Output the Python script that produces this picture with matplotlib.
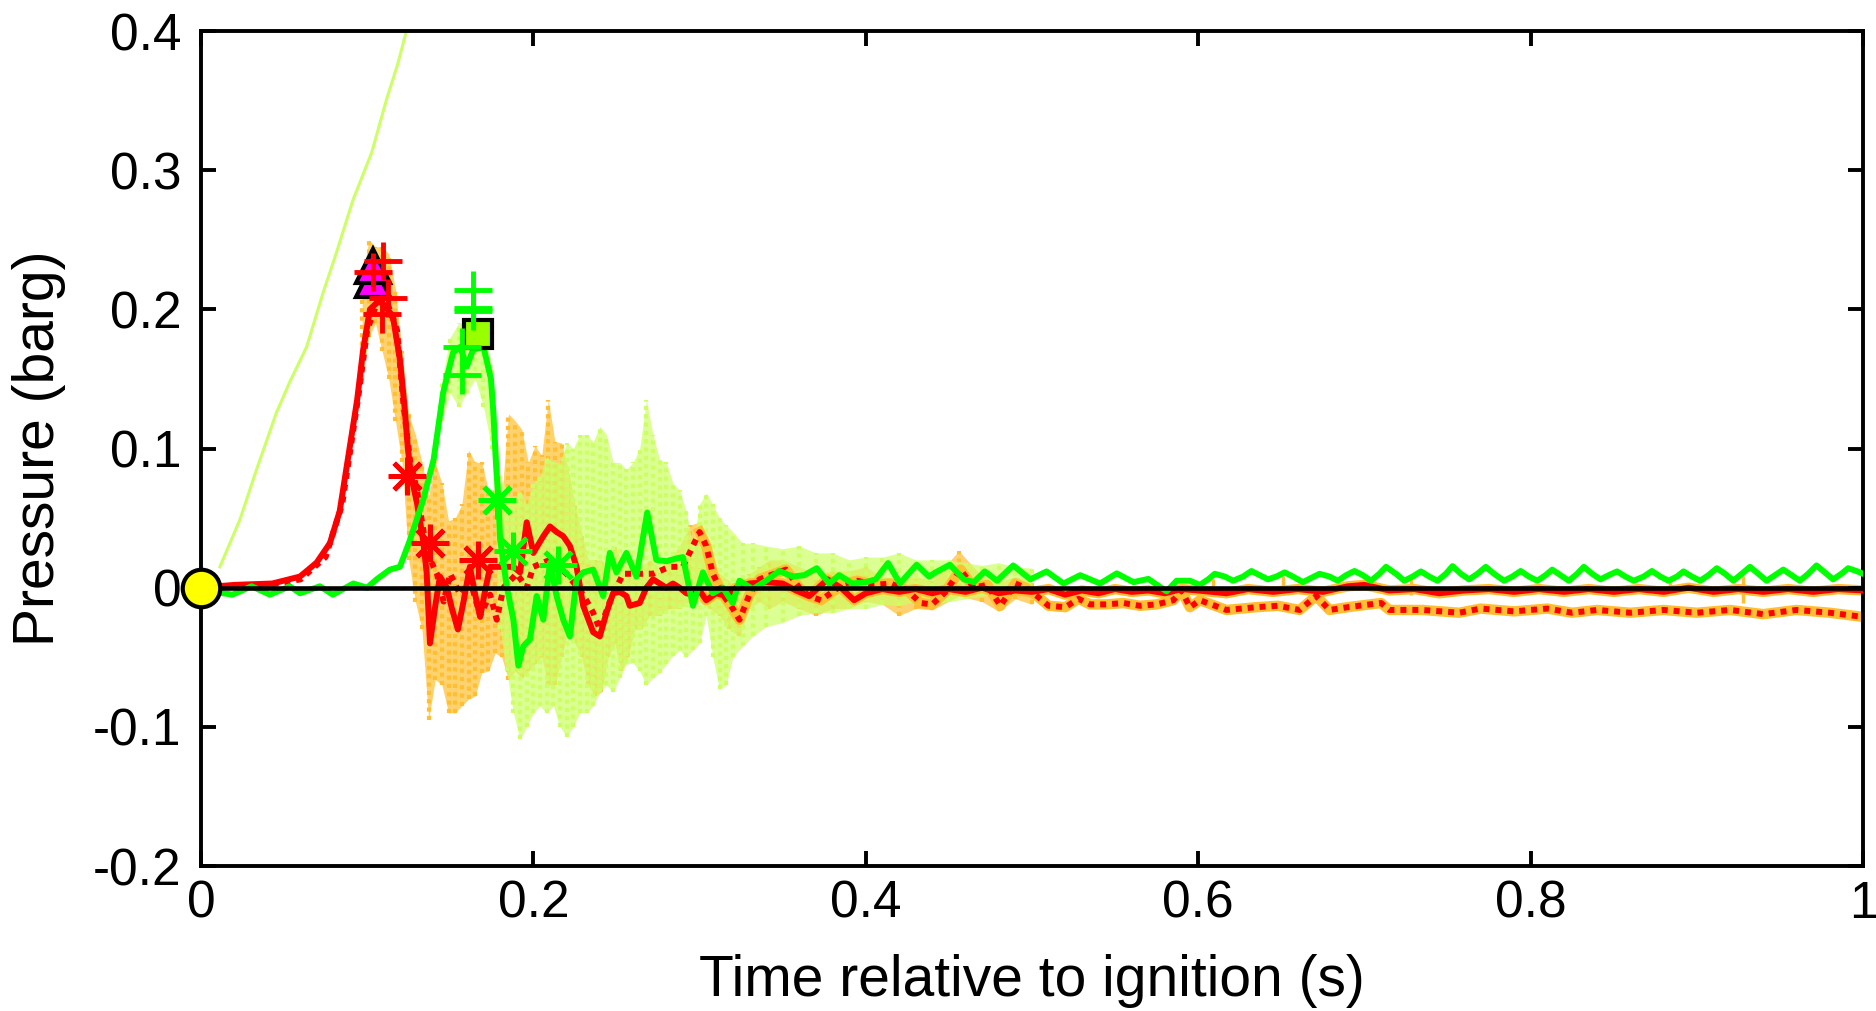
import numpy as np
import matplotlib
matplotlib.use("Agg")
import matplotlib.pyplot as plt

plt.rcParams["font.family"] = ["Liberation Sans", "DejaVu Sans"]
plt.rcParams["axes.unicode_minus"] = False

# ---- data (time in s, pressure in barg) ----
# thin light-green trace (leaves the top of the axes)
thin_t = [0.0114, 0.0235, 0.0335, 0.0455, 0.0535, 0.0636, 0.0735, 0.0816, 0.0916,
          0.1027, 0.1117, 0.1186, 0.1234, 0.130]
thin_p = [0.015, 0.049, 0.085, 0.126, 0.148, 0.173, 0.212, 0.241, 0.279,
          0.3125, 0.351, 0.377, 0.399, 0.430]

# red filtered trace (solid)
red_t = [0.0, 0.02, 0.043, 0.0596, 0.0696, 0.0776, 0.0835, 0.0877, 0.094, 0.0976, 0.1017, 0.1077,
         0.1155, 0.1197, 0.1225, 0.1245, 0.1265, 0.13, 0.1337, 0.1358, 0.1378, 0.141,
         0.1438, 0.148, 0.151, 0.1546, 0.158, 0.1618, 0.165, 0.168, 0.171, 0.174, 0.18,
         0.188, 0.192, 0.196, 0.2, 0.206, 0.21, 0.214, 0.218, 0.222, 0.226, 0.23, 0.236,
         0.24, 0.244, 0.248, 0.252, 0.256, 0.258, 0.264, 0.268, 0.272, 0.276, 0.28, 0.284,
         0.288, 0.292, 0.296, 0.3, 0.304, 0.31, 0.316, 0.322, 0.33, 0.34, 0.35, 0.358,
         0.366, 0.377, 0.385, 0.393, 0.4, 0.41, 0.42, 0.43, 0.44, 0.45, 0.46, 0.47, 0.48,
         0.49, 0.5, 0.51, 0.52, 0.53, 0.54, 0.55, 0.56, 0.57, 0.58, 0.59, 0.6, 0.617, 0.63,
         0.645, 0.66, 0.675, 0.69, 0.7, 0.715, 0.73, 0.745, 0.76, 0.775, 0.79, 0.805, 0.82,
         0.835, 0.85, 0.865, 0.88, 0.895, 0.91, 0.925, 0.94, 0.955, 0.97, 0.985, 1.0]
red_p = [0.0, 0.002, 0.003, 0.008, 0.018, 0.032, 0.055, 0.087, 0.135, 0.171, 0.2, 0.207,
         0.195, 0.164, 0.13, 0.1, 0.08, 0.061, 0.034, 0.011, -0.04, -0.013,
         0.008, 0.0, -0.015, -0.03, -0.01, 0.015, -0.005, -0.021, -0.002, 0.015, 0.015,
         0.015, 0.011, 0.047, 0.025, 0.037, 0.044, 0.04, 0.037, 0.03, 0.015, -0.013, -0.032,
         -0.035, -0.018, -0.004, -0.003, -0.006, -0.013, -0.011, 0.0, 0.006, 0.003, 0.0, 0.003,
         0.0, -0.004, -0.005, -0.002, -0.009, -0.004, -0.006, 0.0, 0.003, 0.004, 0.003, -0.002,
         -0.006, 0.006, 0.0, -0.009, -0.004, -0.001, -0.003, -0.001, -0.004, -0.001, -0.003, 0.0, -0.004,
         -0.002, -0.003, -0.001, -0.005, -0.002, -0.004, -0.001, -0.003, -0.002, -0.004, -0.001, -0.002, -0.004, -0.001,
         -0.003, -0.001, -0.003, 0.001, 0.002, -0.002, -0.001, -0.004, -0.002, -0.001, -0.003, -0.001, -0.003,
         -0.001, -0.003, -0.001, -0.003, 0.0, -0.003, -0.001, -0.003, -0.001, -0.003, -0.001, -0.002]

# red filtered trace (dotted)
redd_t = [0.0, 0.04, 0.06, 0.075, 0.085, 0.095, 0.1, 0.106, 0.112, 0.118, 0.122, 0.126,
          0.13, 0.134, 0.138, 0.142, 0.146, 0.15, 0.156, 0.162, 0.168, 0.174, 0.178, 0.182,
          0.19, 0.196, 0.2, 0.21, 0.22, 0.23, 0.236, 0.24, 0.246, 0.254, 0.262, 0.272, 0.282,
          0.29, 0.296, 0.3, 0.304, 0.308, 0.314, 0.32, 0.324, 0.33, 0.336, 0.345, 0.352, 0.36,
          0.366, 0.373, 0.38, 0.387, 0.395, 0.405, 0.415, 0.425, 0.433, 0.44, 0.448, 0.457,
          0.465, 0.473, 0.481, 0.49, 0.496, 0.503, 0.51, 0.52, 0.528, 0.535, 0.545, 0.555,
          0.565, 0.575, 0.585, 0.59, 0.595, 0.601, 0.617, 0.635, 0.648, 0.661, 0.671, 0.679,
          0.69, 0.71, 0.715, 0.735, 0.757, 0.77, 0.79, 0.81, 0.825, 0.84, 0.86, 0.88, 0.9,
          0.92, 0.94, 0.96, 0.98, 1.0]
redd_p = [0.0, 0.002, 0.006, 0.022, 0.06, 0.14, 0.185, 0.205, 0.205, 0.185, 0.13, 0.09,
          0.07, 0.04, 0.02, 0.01, -0.01, 0.01, -0.005, 0.005, -0.02, -0.005, -0.023, 0.0,
          0.01, 0.0, 0.015, 0.02, 0.01, -0.005, -0.018, -0.03, -0.01, 0.01, 0.01, 0.01, 0.015,
          0.015, 0.03, 0.04, 0.03, 0.01, -0.005, -0.015, -0.023, -0.005, 0.006, 0.01, 0.013, 0.0,
          -0.006, -0.009, -0.003, 0.003, 0.005, 0.002, 0.003, -0.002, -0.011, -0.012, -0.003, 0.013,
          0.0, 0.002, -0.013, 0.003, 0.0, -0.006, -0.013, -0.014, -0.008, -0.012, -0.012, -0.011,
          -0.013, -0.012, -0.009, -0.002, -0.014, -0.009, -0.016, -0.014, -0.013, -0.016, -0.006, -0.016,
          -0.014, -0.011, -0.016, -0.016, -0.018, -0.015, -0.017, -0.015, -0.018, -0.016, -0.018, -0.016, -0.018,
          -0.016, -0.019, -0.016, -0.018, -0.021]

# green filtered trace (solid)
grn_t = [0.003, 0.008, 0.019, 0.0305, 0.0415, 0.0535, 0.0596, 0.0716, 0.0794, 0.0917,
         0.1, 0.1057, 0.1137, 0.1197, 0.1257, 0.1337, 0.14, 0.1457, 0.1517,
         0.156, 0.16, 0.1637, 0.17, 0.1745, 0.176, 0.1775, 0.179, 0.18, 0.184, 0.188, 0.191,
         0.194, 0.198, 0.202, 0.206, 0.21, 0.214, 0.218, 0.222, 0.226, 0.23, 0.236, 0.242,
         0.246, 0.25, 0.256, 0.262, 0.2685, 0.274, 0.28, 0.286, 0.29, 0.296, 0.302, 0.308,
         0.314, 0.32, 0.324, 0.332, 0.34, 0.348, 0.356, 0.363, 0.3705, 0.378, 0.384, 0.392,
         0.4, 0.406, 0.4134, 0.4205, 0.4306, 0.438, 0.442, 0.4506, 0.459, 0.465, 0.4716, 0.479,
         0.4887, 0.499, 0.5088, 0.519, 0.529, 0.541, 0.551, 0.561, 0.57, 0.581, 0.587, 0.595,
         0.601, 0.606, 0.61, 0.616, 0.621, 0.627, 0.632, 0.637, 0.642, 0.647, 0.652, 0.657,
         0.663, 0.668, 0.673, 0.679, 0.684, 0.689, 0.694, 0.699, 0.704, 0.709, 0.713, 0.719,
         0.724, 0.729, 0.734, 0.739, 0.744, 0.749, 0.753, 0.758, 0.763, 0.768, 0.773, 0.778,
         0.784, 0.789, 0.794, 0.799, 0.804, 0.809, 0.813, 0.818, 0.823, 0.828, 0.832, 0.837,
         0.842, 0.847, 0.852, 0.857, 0.862, 0.868, 0.873, 0.878, 0.883, 0.888, 0.892, 0.897,
         0.902, 0.907, 0.912, 0.917, 0.922, 0.927, 0.932, 0.937, 0.942, 0.947, 0.952, 0.957,
         0.962, 0.967, 0.972, 0.977, 0.982, 0.987, 0.991, 0.996, 1.0]
grn_p = [-0.001, -0.003, -0.005, 0.001, -0.005, 0.001, -0.004, 0.001, -0.005, 0.003,
         0.0, 0.006, 0.013, 0.015, 0.034, 0.063, 0.092, 0.14, 0.169,
         0.173, 0.159, 0.171, 0.173, 0.15, 0.125, 0.09, 0.063, 0.035, 0.001, -0.023, -0.056,
         -0.042, -0.037, -0.006, -0.023, 0.018, -0.006, -0.023, -0.035, 0.006, 0.011, 0.013, -0.006,
         0.025, 0.011, 0.025, 0.008, 0.054, 0.02, 0.019, 0.021, 0.022, -0.013, 0.011, -0.004,
         0.0, -0.011, 0.005, -0.001, 0.005, 0.012, 0.008, 0.009, 0.014, 0.003, 0.009, 0.003,
         0.004, 0.006, 0.0177, 0.003, 0.0165, 0.008, 0.011, 0.0165, 0.006, 0.004, 0.0117, 0.005,
         0.016, 0.006, 0.0117, 0.003, 0.009, 0.003, 0.0103, 0.004, 0.0063, -0.0026, 0.005, 0.005,
         0.002, 0.006, 0.01, 0.008, 0.005, 0.008, 0.012, 0.009, 0.006, 0.008, 0.011, 0.008,
         0.004, 0.007, 0.01, 0.008, 0.005, 0.009, 0.012, 0.009, 0.005, 0.01, 0.015, 0.01,
         0.005, 0.008, 0.0117, 0.008, 0.005, 0.01, 0.0155, 0.01, 0.006, 0.01, 0.015, 0.01,
         0.005, 0.008, 0.012, 0.008, 0.005, 0.009, 0.013, 0.009, 0.005, 0.01, 0.015, 0.01,
         0.006, 0.009, 0.0117, 0.008, 0.005, 0.008, 0.012, 0.008, 0.005, 0.008, 0.0117, 0.008,
         0.005, 0.009, 0.014, 0.01, 0.005, 0.01, 0.015, 0.01, 0.005, 0.009, 0.013, 0.009,
         0.005, 0.01, 0.016, 0.011, 0.006, 0.01, 0.014, 0.012, 0.01]

# raw-signal scatter envelopes (time, low, high)
org_t = [0.097, 0.101, 0.105, 0.109, 0.113, 0.117, 0.121, 0.125, 0.129, 0.133, 0.137, 0.141,
         0.145, 0.149, 0.153, 0.157, 0.161, 0.165, 0.169, 0.173, 0.177, 0.181, 0.185, 0.189,
         0.193, 0.197, 0.201, 0.205, 0.209, 0.213, 0.217, 0.221, 0.225, 0.229, 0.233, 0.237,
         0.241, 0.245, 0.249, 0.253, 0.257, 0.261, 0.265, 0.27, 0.276, 0.282, 0.288, 0.294,
         0.3, 0.306, 0.312, 0.318, 0.324, 0.33, 0.336, 0.342, 0.35, 0.36, 0.37, 0.38, 0.39, 0.4,
         0.41, 0.42, 0.43, 0.44, 0.456, 0.47, 0.48, 0.49, 0.5]
org_lo = [0.15, 0.18, 0.19, 0.17, 0.15, 0.12, 0.09, 0.02, -0.01, -0.03, -0.095, -0.066,
          -0.07, -0.09, -0.09, -0.085, -0.08, -0.078, -0.061, -0.06, -0.047, -0.05, -0.066, -0.06,
          -0.065, -0.06, -0.055, -0.05, -0.07, -0.07, -0.05, -0.03, -0.04, -0.05, -0.07, -0.078,
          -0.075, -0.05, -0.04, -0.06, -0.05, -0.03, -0.03, -0.02, -0.02, -0.015, -0.015, -0.01,
          -0.01, -0.015, -0.02, -0.03, -0.035, -0.015, -0.01, -0.015, -0.01, -0.015, -0.02, -0.015,
          -0.015, -0.01, -0.012, -0.02, -0.015, -0.016, -0.006, -0.01, -0.017, -0.008, -0.012]
org_hi = [0.22, 0.25, 0.245, 0.245, 0.24, 0.215, 0.17, 0.125, 0.11, 0.09, 0.066, 0.09,
          0.075, 0.048, 0.05, 0.06, 0.099, 0.09, 0.09, 0.07, 0.07, 0.065, 0.125, 0.12,
          0.114, 0.09, 0.102, 0.095, 0.135, 0.105, 0.104, 0.085, 0.06, 0.04, 0.02, 0.02,
          0.02, 0.015, 0.03, 0.02, 0.015, 0.02, 0.015, 0.02, 0.015, 0.02, 0.03, 0.045,
          0.047, 0.03, 0.01, 0.005, 0.0, 0.01, 0.015, 0.02, 0.02, 0.015, 0.01, 0.012,
          0.012, 0.015, 0.008, 0.006, 0.008, 0.005, 0.0265, 0.008, 0.004, 0.008, 0.004]

lgn_t = [0.145, 0.15, 0.155, 0.16, 0.165, 0.17, 0.175, 0.18, 0.184, 0.188, 0.192, 0.196,
         0.2, 0.204, 0.208, 0.212, 0.216, 0.22, 0.224, 0.228, 0.232, 0.236, 0.24, 0.244,
         0.248, 0.252, 0.256, 0.26, 0.264, 0.268, 0.272, 0.276, 0.28, 0.284, 0.288, 0.292,
         0.296, 0.3, 0.304, 0.308, 0.312, 0.316, 0.32, 0.326, 0.332, 0.34, 0.35, 0.36, 0.37,
         0.38, 0.39, 0.4, 0.41, 0.42, 0.43, 0.44, 0.45, 0.46, 0.47, 0.48, 0.49, 0.5]
lgn_lo = [0.12, 0.14, 0.13, 0.14, 0.15, 0.13, 0.1, -0.03, -0.06, -0.09, -0.109, -0.1,
          -0.09, -0.085, -0.09, -0.085, -0.1, -0.107, -0.1, -0.09, -0.09, -0.085, -0.075, -0.07,
          -0.075, -0.065, -0.055, -0.054, -0.06, -0.07, -0.065, -0.061, -0.055, -0.049, -0.045, -0.05,
          -0.045, -0.04, -0.02, -0.05, -0.073, -0.07, -0.05, -0.042, -0.035, -0.028, -0.025, -0.02, -0.018,
          -0.018, -0.015, -0.015, -0.012, -0.013, -0.01, -0.012, -0.01, -0.008, -0.006, -0.005, -0.004, -0.002]
lgn_hi = [0.15, 0.18, 0.19, 0.19, 0.19, 0.185, 0.16, 0.08, 0.07, 0.06, 0.07, 0.06,
          0.075, 0.08, 0.094, 0.09, 0.09, 0.104, 0.1, 0.11, 0.11, 0.105, 0.116, 0.11,
          0.09, 0.09, 0.085, 0.09, 0.1, 0.135, 0.11, 0.092, 0.09, 0.075, 0.07, 0.055,
          0.03, 0.06, 0.068, 0.06, 0.05, 0.045, 0.04, 0.032, 0.032, 0.03, 0.028, 0.03, 0.025,
          0.025, 0.02, 0.022, 0.022, 0.025, 0.02, 0.02, 0.02, 0.018, 0.016, 0.018, 0.015, 0.014]

# isolated late spikes in the raw red signals
spk_t = [0.609, 0.651, 0.728, 0.884, 0.928]
spk_lo = [-0.006, -0.004, -0.005, -0.004, -0.011]
spk_hi = [0.006, 0.0085, 0.0085, 0.0045, 0.0085]

# event markers
circ_t, circ_p = [0.0], [0.0]
tri_t, tri_p = [0.1035, 0.1035], [0.221, 0.231]
rplus_t = [0.1037, 0.1097, 0.1127, 0.1087]
rplus_p = [0.2266, 0.235, 0.208, 0.197]
gplus_t = [0.1635, 0.1635, 0.1635, 0.1569, 0.1569]
gplus_p = [0.214, 0.201, 0.199, 0.1727, 0.153]
sq_t, sq_p = [0.167], [0.1825]
rast_t, rast_p = [0.1238, 0.138, 0.1669], [0.080, 0.032, 0.020]
gast_t, gast_p = [0.178, 0.188, 0.215], [0.063, 0.0262, 0.016]

RED = "#ff0000"
GREEN = "#00ff00"
LGREEN = "#ccff66"
ORANGE = "#ffbf33"

fig = plt.figure(figsize=(18.76, 10.11), dpi=100)
ax = fig.add_axes([0.1071, 0.1434, 0.886, 0.8259])

# raw scatter clouds
ax.fill_between(org_t, org_lo, org_hi, color=ORANGE, alpha=0.7, lw=0, zorder=1)
ax.vlines(org_t, org_lo, org_hi, color=ORANGE, lw=3, linestyles=(0, (1, 1)), zorder=1)
ax.fill_between(lgn_t, lgn_lo, lgn_hi, color=LGREEN, alpha=0.7, lw=0, zorder=1)
ax.vlines(lgn_t, lgn_lo, lgn_hi, color=LGREEN, lw=3, linestyles=(0, (1, 1)), zorder=1)
ax.vlines(spk_t, spk_lo, spk_hi, color=ORANGE, lw=2.5, zorder=1)

# orange halo of raw red signals in the late part
late = [i for i, t in enumerate(red_t) if t >= 0.3]
ax.plot([red_t[i] for i in late], [red_p[i] for i in late], color=ORANGE, lw=7.5, zorder=1.5)
late_d = [i for i, t in enumerate(redd_t) if t >= 0.3]
ax.plot([redd_t[i] for i in late_d], [redd_p[i] for i in late_d], color=ORANGE, lw=7.5, zorder=1.5)

ax.plot(thin_t, thin_p, color=LGREEN, lw=2.2, zorder=2)
ax.plot(redd_t, redd_p, color=RED, lw=4.3, ls=(0, (1, 1)), zorder=3)
ax.plot(red_t, red_p, color=RED, lw=4.3, zorder=3, solid_joinstyle="round")
ax.plot(grn_t, grn_p, color=GREEN, lw=4.3, zorder=3, solid_joinstyle="round")
ax.plot([0, 1], [0, 0], color="black", lw=3.3, zorder=4)

# markers
ax.plot(rast_t, rast_p, ls="none", marker=(8, 2, 0), ms=27, mew=3.5, color=RED, zorder=5)
ax.plot(gast_t, gast_p, ls="none", marker=(8, 2, 0), ms=27, mew=3.5, color=GREEN, zorder=5)
ax.plot(tri_t, tri_p, ls="none", marker="^", ms=24, mew=3, mfc="#ff00ff", mec="black", zorder=5)
ax.plot(rplus_t, rplus_p, ls="none", marker="+", ms=27, mew=3.5, color=RED, zorder=6)
ax.plot(sq_t, sq_p, ls="none", marker="s", ms=20, mew=3, mfc="#99ff00", mec="black", zorder=5)
ax.plot(gplus_t, gplus_p, ls="none", marker="+", ms=27, mew=3.5, color=GREEN, zorder=6)
ax.plot(circ_t, circ_p, ls="none", marker="o", ms=27, mew=3, mfc="#ffff00", mec="black",
        zorder=7, clip_on=False)

ax.set_xlim(0, 1)
ax.set_ylim(-0.2, 0.4)
ax.set_xticks([0, 0.2, 0.4, 0.6, 0.8, 1])
ax.set_xticklabels(["0", "0.2", "0.4", "0.6", "0.8", "1"])
ax.set_yticks([-0.2, -0.1, 0, 0.1, 0.2, 0.3, 0.4])
ax.set_yticklabels(["-0.2", "-0.1", "0", "0.1", "0.2", "0.3", "0.4"])
ax.tick_params(direction="in", length=11, width=2.8, labelsize=37,
               top=True, right=True)
ax.tick_params(axis="y", pad=14)
ax.tick_params(axis="x", pad=10)
for s in ax.spines.values():
    s.set_linewidth(2.8)

ax.set_xlabel("Time relative to ignition (s)", fontsize=41)
ax.set_ylabel("Pressure (barg)", fontsize=41)
ax.xaxis.set_label_coords(0.5, -0.105)
ax.yaxis.set_label_coords(-0.081, 0.5)

fig.savefig("out.png", dpi=100)
